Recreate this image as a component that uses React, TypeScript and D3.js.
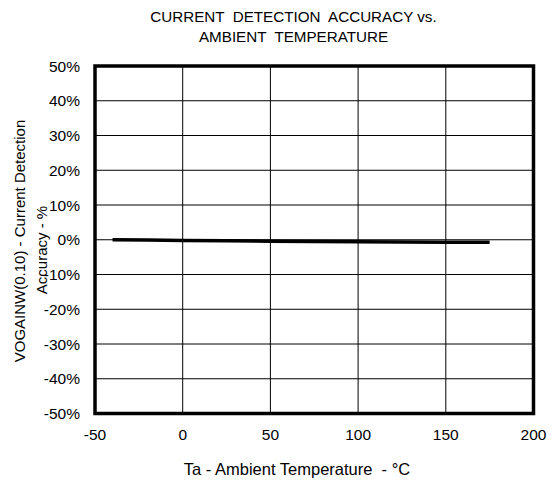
import React from "react";
import * as d3 from "d3";

const temps = [-40, -20, 0, 25, 50, 75, 100, 125, 150, 175];
const accuracy = [0.0, -0.1, -0.2, -0.3, -0.4, -0.5, -0.6, -0.65, -0.7, -0.75];
const xTicks = [-50, 0, 50, 100, 150, 200];
const yTicks = [50, 40, 30, 20, 10, 0, -10, -20, -30, -40, -50];
const titleLines = ["CURRENT  DETECTION  ACCURACY vs.", "AMBIENT  TEMPERATURE"];
const xTitle = "Ta - Ambient Temperature  - °C";
const yTitleLines = ["VOGAINW(0.10) - Current Detection", "Accuracy - %"];

export default function App() {
  const W = 556, H = 481;
  const left = 95, right = 533.5, top = 66, bottom = 413.5;
  const x = d3.scaleLinear().domain([-50, 200]).range([left, right]);
  const y = d3.scaleLinear().domain([-50, 50]).range([bottom, top]);
  const line = d3.line<number>().x((_, i) => x(temps[i])).y((d) => y(d));
  const font = "'Liberation Sans', Arial, sans-serif";
  return (
    <svg width={W} height={H} style={{ position: "absolute", left: 0, top: 0 }} fontFamily={font}>
      <rect width={W} height={H} fill="white" />
      {titleLines.map((t, i) => (
        <text key={i} x={293.5} y={22 + i * 19.5} textAnchor="middle" fontSize={15.2} style={{ whiteSpace: "pre" }}>{t}</text>
      ))}
      {xTicks.slice(1, -1).map((t) => (
        <line key={"gx" + t} x1={x(t)} x2={x(t)} y1={top} y2={bottom} stroke="black" strokeWidth={1} />
      ))}
      {yTicks.slice(1, -1).map((t) => (
        <line key={"gy" + t} x1={left} x2={right} y1={y(t)} y2={y(t)} stroke="black" strokeWidth={1} />
      ))}
      <rect x={left} y={top} width={right - left} height={bottom - top} fill="none" stroke="black" strokeWidth={3.5} />
      <path d={line(accuracy) || ""} fill="none" stroke="black" strokeWidth={3.5} />
      {yTicks.map((t) => (
        <text key={"ty" + t} x={80} y={y(t) + 5.5} textAnchor="end" fontSize={15.5}>{t}%</text>
      ))}
      {xTicks.map((t) => (
        <text key={"tx" + t} x={x(t)} y={440} textAnchor="middle" fontSize={15.5}>{t}</text>
      ))}
      <text x={297} y={475} textAnchor="middle" fontSize={16.5} style={{ whiteSpace: "pre" }}>{xTitle}</text>
      {yTitleLines.map((t, i) => (
        <text key={i} transform={`translate(${25 + i * 22},${241 + i * 9}) rotate(-90)`} textAnchor="middle" fontSize={15}>{t}</text>
      ))}
    </svg>
  );
}
